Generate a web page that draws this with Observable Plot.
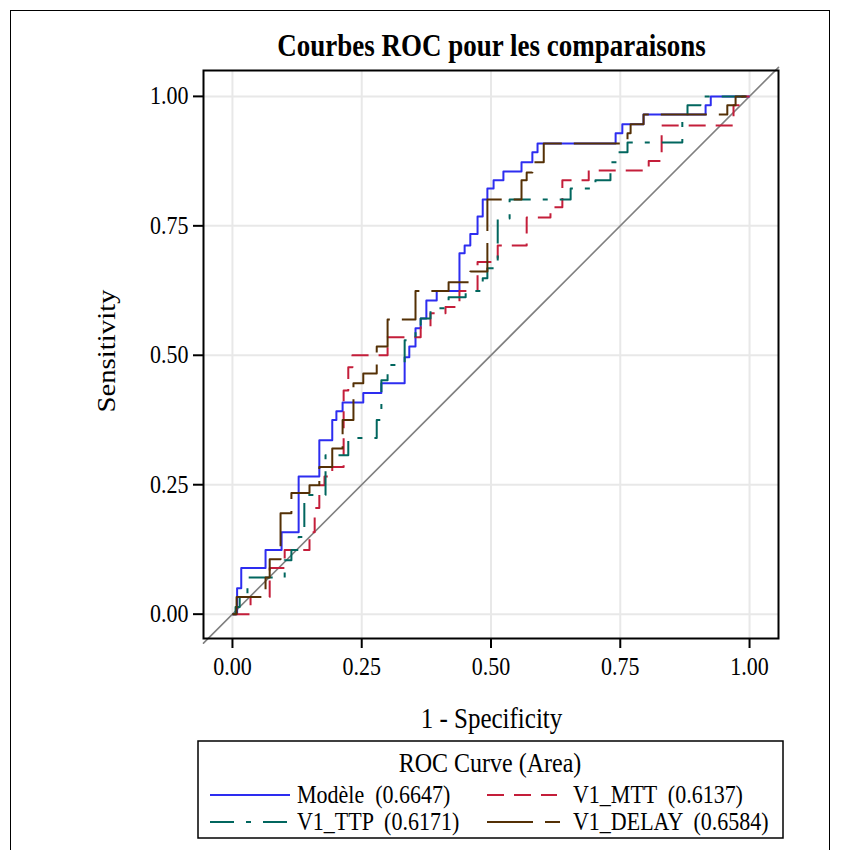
<!DOCTYPE html>
<html><head><meta charset="utf-8">
<script src="https://cdn.jsdelivr.net/npm/d3@7"></script>
<script src="https://cdn.jsdelivr.net/npm/@observablehq/plot@0.6"></script>
<style>
body{margin:0;background:#fff;font-family:"Liberation Serif","Times New Roman",serif;}
#wrap{position:relative;width:845px;height:850px;overflow:hidden;background:#fff;}
#border{position:absolute;left:10px;top:10px;width:820px;height:900px;border:1.5px solid #000;box-sizing:border-box;}
#title{position:absolute;left:0;top:28px;width:983px;text-align:center;font-weight:bold;font-size:27px;transform:scaleY(1.15);transform-origin:50% 0;}
#chart{position:absolute;left:0;top:0;}
#xlabel{position:absolute;left:0;top:703px;width:983px;text-align:center;font-size:25px;transform:scaleY(1.15);transform-origin:50% 0;}
#ylabel{position:absolute;left:107px;top:351px;transform:translate(-50%,-50%) rotate(-90deg) scale(1.15,1);font-size:25px;white-space:nowrap;}
#legend{position:absolute;left:0;top:0;}
</style></head>
<body><div id="wrap"><div id="border"></div>
<div id="title">Courbes ROC pour les comparaisons</div>
<div id="chart"></div>
<div id="xlabel">1 - Specificity</div>
<div id="ylabel">Sensitivity</div>
<svg id="legend" width="845" height="850"></svg>
</div>
<script>
// ---- data (1 - specificity, sensitivity) at each step ----
const curveNames = ["Modèle", "V1_MTT", "V1_TTP", "V1_DELAY"];
const curveAreas = ["0.6647", "0.6137", "0.6171", "0.6584"];
const curveColors = ["#2d2df0", "#c41e3a", "#01665e", "#543005"];
const curveDashes = ["none", "17,10", "24,12,5,12", "46,12"];

const modeleX = [0,0.009,0.017,0.064,0.095,0.128,0.168,0.193,0.201,0.213,0.253,0.288,0.333,0.342,0.354,0.364,0.375,0.395,0.439,0.449,0.460,0.474,0.484,0.493,0.505,0.524,0.559,0.580,0.590,0.741,0.754,0.795,0.915,0.925,1];
const modeleY = [0,0.050,0.089,0.124,0.158,0.266,0.336,0.375,0.392,0.409,0.427,0.446,0.496,0.517,0.552,0.571,0.606,0.624,0.697,0.712,0.734,0.768,0.801,0.822,0.838,0.855,0.873,0.892,0.909,0.929,0.946,0.965,0.983,1,1];

const mttX = [0,0.035,0.072,0.101,0.149,0.159,0.168,0.178,0.193,0.215,0.224,0.232,0.300,0.364,0.383,0.412,0.439,0.474,0.513,0.569,0.615,0.638,0.689,0.805,0.830,0.969,0.986,1];
const mttY = [0,0.033,0.089,0.124,0.158,0.205,0.249,0.266,0.284,0.432,0.477,0.500,0.535,0.554,0.581,0.593,0.624,0.680,0.712,0.766,0.786,0.838,0.857,0.875,0.944,0.983,1,1];

const ttpX = [0,0.006,0.014,0.029,0.101,0.114,0.128,0.139,0.180,0.224,0.279,0.288,0.300,0.333,0.354,0.364,0.383,0.418,0.451,0.484,0.493,0.513,0.536,0.654,0.702,0.731,0.745,0.764,0.870,0.880,0.905,1];
const ttpY = [0,0.014,0.033,0.071,0.104,0.124,0.149,0.230,0.307,0.340,0.375,0.452,0.481,0.529,0.554,0.571,0.591,0.612,0.624,0.649,0.668,0.764,0.801,0.822,0.838,0.873,0.892,0.911,0.963,0.983,1,1];

const delayX = [0,0.008,0.064,0.072,0.093,0.114,0.149,0.168,0.193,0.213,0.234,0.253,0.279,0.300,0.354,0.418,0.460,0.493,0.559,0.569,0.580,0.602,0.764,0.770,0.795,0.957,0.973,1];
const delayY = [0,0.033,0.071,0.106,0.195,0.234,0.249,0.284,0.320,0.375,0.446,0.465,0.517,0.569,0.624,0.641,0.662,0.801,0.838,0.853,0.873,0.909,0.929,0.946,0.965,0.983,1,1];

const tickValues = [0, 0.25, 0.5, 0.75, 1];
const xDomain = [-0.056, 1.056];
const yDomain = [-0.047, 1.05];

const seriesX = [modeleX, mttX, ttpX, delayX];
const seriesY = [modeleY, mttY, ttpY, delayY];
const series = curveNames.map((name, i) => seriesX[i].map((x, j) => ({name, x, y: seriesY[i][j]})));
const diag = xDomain.map(v => ({x: v, y: v}));

const font = '"Liberation Serif","Times New Roman",serif';
const chart = Plot.plot({
  width: 845, height: 700,
  marginLeft: 203, marginRight: 67, marginTop: 70, marginBottom: 62,
  x: {domain: xDomain},
  y: {domain: yDomain},
  style: {fontFamily: font, background: "transparent", color: "#000"},
  marks: [
    Plot.gridX(tickValues, {stroke: "#e8e8e8", strokeOpacity: 1, strokeWidth: 2}),
    Plot.gridY(tickValues, {stroke: "#e8e8e8", strokeOpacity: 1, strokeWidth: 2}),
    Plot.line(diag, {x: "x", y: "y", stroke: "#808080", strokeWidth: 1.6}),
    ...series.map((d, i) => Plot.line(d, {
      x: "x", y: "y", curve: "step-after",
      stroke: curveColors[i], strokeWidth: 2,
      strokeDasharray: curveDashes[i], strokeLinecap: "butt"
    })),
    Plot.frame({stroke: "#000", strokeWidth: 2}),
    Plot.axisX(tickValues, {tickFormat: d3.format(".2f"), tickSize: 10, tickPadding: 9, strokeWidth: 2, fontSize: 22, label: null}),
    Plot.axisY(tickValues, {tickFormat: d3.format(".2f"), tickSize: 10, tickPadding: 5, strokeWidth: 2, fontSize: 22, label: null})
  ]
});
document.getElementById("chart").appendChild(chart);
// stretch tick labels vertically like the reference rendering
chart.querySelectorAll('g[aria-label$="tick label"] text').forEach(t => {
  const tr = t.getAttribute("transform") || "";
  t.setAttribute("transform", tr + " scale(1,1.15)");
});

// ---- legend ----
const lg = d3.select("#legend");
lg.append("rect").attr("x", 198).attr("y", 741).attr("width", 585).attr("height", 97)
  .attr("fill", "none").attr("stroke", "#000").attr("stroke-width", 1.5);
lg.append("text").attr("transform", "translate(490,772) scale(1,1.15)").attr("text-anchor", "middle")
  .attr("font-family", font).attr("font-size", 24).text("ROC Curve (Area)");
const legPos = [[210, 290, 297, 795], [487, 557, 573, 795], [210, 290, 297, 822], [487, 560, 573, 822]];
curveNames.forEach((name, i) => {
  const [x1, x2, tx, y] = legPos[i];
  lg.append("line").attr("x1", x1).attr("x2", x2).attr("y1", y).attr("y2", y)
    .attr("stroke", curveColors[i]).attr("stroke-width", 2)
    .attr("stroke-dasharray", curveDashes[i]);
  lg.append("text").attr("transform", `translate(${tx},${y + 8}) scale(1,1.15)`)
    .attr("font-family", font).attr("font-size", 22)
    .style("white-space", "pre").text(name + "  (" + curveAreas[i] + ")");
});
</script>
</body></html>
